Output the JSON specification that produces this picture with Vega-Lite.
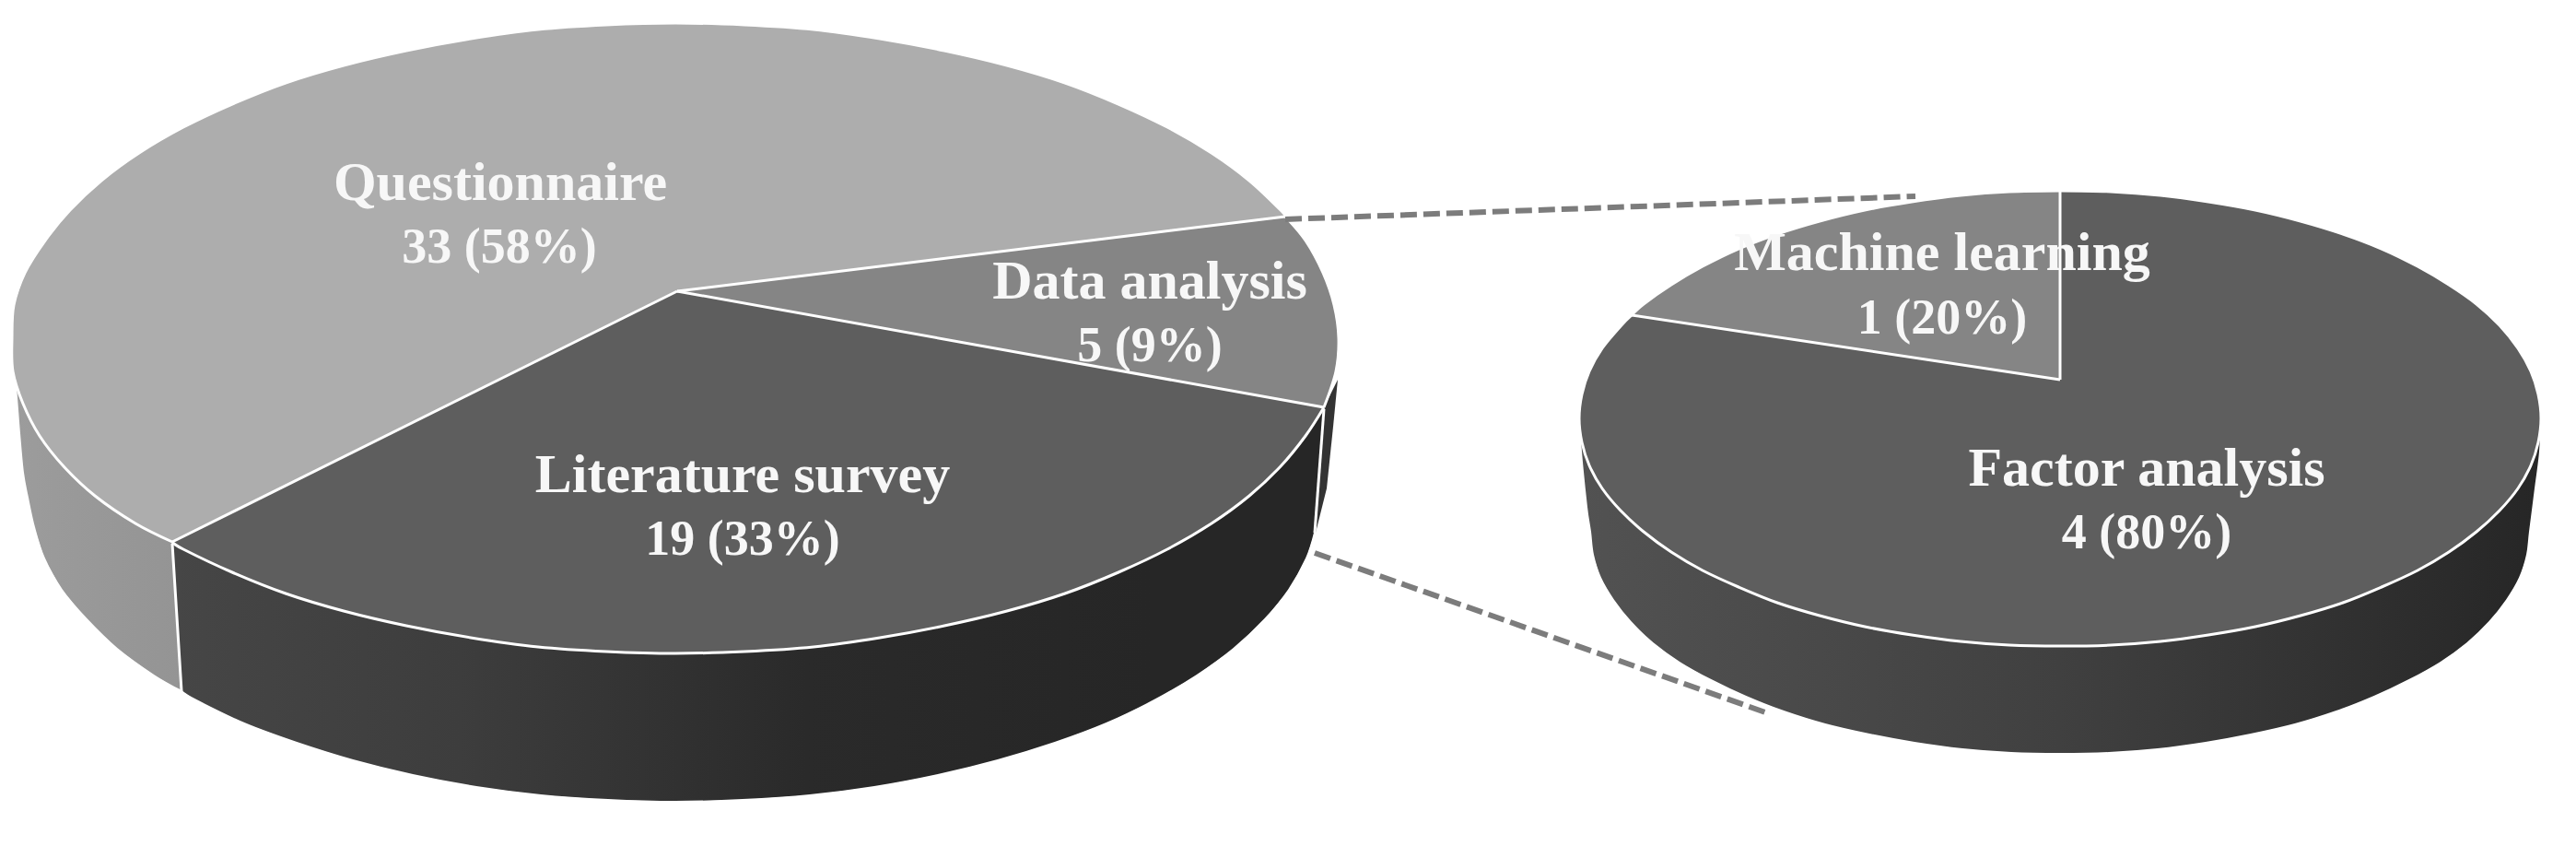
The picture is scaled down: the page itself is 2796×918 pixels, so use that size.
{"$schema":"https://vega.github.io/schema/vega-lite/v6.json","width":2796,"height":918,"padding":0,"autosize":"none","background":"white","config":{"view":{"stroke":null}},
"datasets":{"outline":[
{"part":"Left side","corner":true,"x":187,"y":588},{"part":"Left side","x":14,"y":400},{"part":"Left side","x":17,"y":420},{"part":"Left side","x":21,"y":470},{"part":"Left side","x":25,"y":513},{"part":"Left side","x":30,"y":540},{"part":"Left side","x":37,"y":572},{"part":"Left side","x":48,"y":606},{"part":"Left side","x":67,"y":640},{"part":"Left side","x":94,"y":672},{"part":"Left side","x":127,"y":704},{"part":"Left side","x":167,"y":733},{"part":"Left side","x":197,"y":750},{"part":"Left side","corner":true,"x":187,"y":588},
{"part":"Front side","corner":true,"x":1437,"y":442},{"part":"Front side","x":1427,"y":578},{"part":"Front side","x":1418,"y":606},{"part":"Front side","x":1399,"y":640},{"part":"Front side","x":1373,"y":672},{"part":"Front side","x":1339,"y":704},{"part":"Front side","x":1299,"y":733},{"part":"Front side","x":1253,"y":760},{"part":"Front side","x":1201,"y":785},{"part":"Front side","x":1145,"y":806},{"part":"Front side","x":1083,"y":825},{"part":"Front side","x":1018,"y":841},{"part":"Front side","x":949,"y":854},{"part":"Front side","x":879,"y":863},{"part":"Front side","x":806,"y":868},{"part":"Front side","x":733,"y":870},{"part":"Front side","x":660,"y":868},{"part":"Front side","x":587,"y":863},{"part":"Front side","x":517,"y":854},{"part":"Front side","x":448,"y":841},{"part":"Front side","x":383,"y":825},{"part":"Front side","x":322,"y":806},{"part":"Front side","x":265,"y":785},{"part":"Front side","x":213,"y":760},{"part":"Front side","x":197,"y":750},{"part":"Front side","corner":true,"x":187,"y":588},{"part":"Front side","corner":true,"x":1437,"y":442},
{"part":"Right side","corner":true,"x":1437,"y":442},{"part":"Right side","x":1452,"y":412},{"part":"Right side","x":1447,"y":463},{"part":"Right side","x":1440,"y":530},{"part":"Right side","x":1428,"y":578},{"part":"Right side","corner":true,"x":1437,"y":442},
{"part":"Small side","x":2758,"y":454},{"part":"Small side","x":2757,"y":490},{"part":"Small side","x":2752,"y":530},{"part":"Small side","x":2746,"y":577},{"part":"Small side","x":2743,"y":602},{"part":"Small side","x":2735,"y":627},{"part":"Small side","x":2721,"y":651},{"part":"Small side","x":2702,"y":675},{"part":"Small side","x":2678,"y":698},{"part":"Small side","x":2649,"y":719},{"part":"Small side","x":2615,"y":738},{"part":"Small side","x":2577,"y":756},{"part":"Small side","x":2536,"y":772},{"part":"Small side","x":2491,"y":786},{"part":"Small side","x":2443,"y":797},{"part":"Small side","x":2394,"y":806},{"part":"Small side","x":2342,"y":813},{"part":"Small side","x":2289,"y":817},{"part":"Small side","x":2236,"y":818},{"part":"Small side","x":2183,"y":817},{"part":"Small side","x":2130,"y":813},{"part":"Small side","x":2078,"y":806},{"part":"Small side","x":2029,"y":797},{"part":"Small side","x":1981,"y":786},{"part":"Small side","x":1936,"y":772},{"part":"Small side","x":1895,"y":756},{"part":"Small side","x":1857,"y":738},{"part":"Small side","x":1823,"y":719},{"part":"Small side","x":1794,"y":698},{"part":"Small side","x":1770,"y":675},{"part":"Small side","x":1751,"y":651},{"part":"Small side","x":1737,"y":627},{"part":"Small side","x":1729,"y":602},{"part":"Small side","x":1726,"y":577},{"part":"Small side","x":1722,"y":550},{"part":"Small side","x":1716,"y":490},{"part":"Small side","x":1714,"y":454},{"part":"Small side","corner":true,"x":2758,"y":454},
{"part":"Questionnaire","corner":true,"x":735,"y":316},{"part":"Questionnaire","x":187,"y":588},{"part":"Questionnaire","x":147,"y":568},{"part":"Questionnaire","x":103,"y":538},{"part":"Questionnaire","x":69,"y":506},{"part":"Questionnaire","x":43,"y":473},{"part":"Questionnaire","x":25,"y":438},{"part":"Questionnaire","x":14,"y":403},{"part":"Questionnaire","x":13,"y":367},{"part":"Questionnaire","x":15,"y":331},{"part":"Questionnaire","x":27,"y":296},{"part":"Questionnaire","x":49,"y":261},{"part":"Questionnaire","x":76,"y":228},{"part":"Questionnaire","x":110,"y":196},{"part":"Questionnaire","x":151,"y":166},{"part":"Questionnaire","x":199,"y":138},{"part":"Questionnaire","x":252,"y":113},{"part":"Questionnaire","x":310,"y":90},{"part":"Questionnaire","x":373,"y":71},{"part":"Questionnaire","x":441,"y":55},{"part":"Questionnaire","x":511,"y":42},{"part":"Questionnaire","x":584,"y":32},{"part":"Questionnaire","x":658,"y":27},{"part":"Questionnaire","x":733,"y":25},{"part":"Questionnaire","x":808,"y":27},{"part":"Questionnaire","x":883,"y":32},{"part":"Questionnaire","x":955,"y":42},{"part":"Questionnaire","x":1025,"y":55},{"part":"Questionnaire","x":1093,"y":71},{"part":"Questionnaire","x":1156,"y":90},{"part":"Questionnaire","x":1214,"y":113},{"part":"Questionnaire","x":1267,"y":138},{"part":"Questionnaire","x":1315,"y":166},{"part":"Questionnaire","x":1356,"y":196},{"part":"Questionnaire","x":1390,"y":228},{"part":"Questionnaire","x":1395,"y":235},{"part":"Questionnaire","corner":true,"x":735,"y":316},
{"part":"Data analysis","corner":true,"x":735,"y":316},{"part":"Data analysis","x":1395,"y":235},{"part":"Data analysis","x":1417,"y":261},{"part":"Data analysis","x":1436,"y":296},{"part":"Data analysis","x":1448,"y":331},{"part":"Data analysis","x":1453,"y":367},{"part":"Data analysis","x":1450,"y":403},{"part":"Data analysis","x":1437,"y":442},{"part":"Data analysis","corner":true,"x":735,"y":316},
{"part":"Literature survey","corner":true,"x":735,"y":316},{"part":"Literature survey","x":1437,"y":442},{"part":"Literature survey","x":1417,"y":473},{"part":"Literature survey","x":1390,"y":506},{"part":"Literature survey","x":1356,"y":538},{"part":"Literature survey","x":1315,"y":568},{"part":"Literature survey","x":1267,"y":596},{"part":"Literature survey","x":1214,"y":621},{"part":"Literature survey","x":1156,"y":644},{"part":"Literature survey","x":1093,"y":663},{"part":"Literature survey","x":1025,"y":679},{"part":"Literature survey","x":955,"y":692},{"part":"Literature survey","x":883,"y":702},{"part":"Literature survey","x":808,"y":707},{"part":"Literature survey","x":733,"y":709},{"part":"Literature survey","x":658,"y":707},{"part":"Literature survey","x":584,"y":702},{"part":"Literature survey","x":511,"y":692},{"part":"Literature survey","x":441,"y":679},{"part":"Literature survey","x":373,"y":663},{"part":"Literature survey","x":310,"y":644},{"part":"Literature survey","x":252,"y":621},{"part":"Literature survey","x":199,"y":596},{"part":"Literature survey","x":187,"y":588},{"part":"Literature survey","corner":true,"x":735,"y":316},
{"part":"Factor analysis","corner":true,"x":2236,"y":412},{"part":"Factor analysis","x":2236,"y":207},{"part":"Factor analysis","x":2291,"y":208},{"part":"Factor analysis","x":2345,"y":212},{"part":"Factor analysis","x":2397,"y":219},{"part":"Factor analysis","x":2448,"y":228},{"part":"Factor analysis","x":2497,"y":240},{"part":"Factor analysis","x":2543,"y":254},{"part":"Factor analysis","x":2585,"y":270},{"part":"Factor analysis","x":2624,"y":289},{"part":"Factor analysis","x":2658,"y":309},{"part":"Factor analysis","x":2688,"y":330},{"part":"Factor analysis","x":2713,"y":353},{"part":"Factor analysis","x":2733,"y":378},{"part":"Factor analysis","x":2747,"y":403},{"part":"Factor analysis","x":2755,"y":428},{"part":"Factor analysis","x":2758,"y":454},{"part":"Factor analysis","x":2755,"y":480},{"part":"Factor analysis","x":2747,"y":505},{"part":"Factor analysis","x":2733,"y":530},{"part":"Factor analysis","x":2713,"y":554},{"part":"Factor analysis","x":2688,"y":577},{"part":"Factor analysis","x":2658,"y":599},{"part":"Factor analysis","x":2624,"y":619},{"part":"Factor analysis","x":2585,"y":637},{"part":"Factor analysis","x":2543,"y":654},{"part":"Factor analysis","x":2497,"y":668},{"part":"Factor analysis","x":2448,"y":680},{"part":"Factor analysis","x":2397,"y":689},{"part":"Factor analysis","x":2345,"y":696},{"part":"Factor analysis","x":2291,"y":700},{"part":"Factor analysis","x":2236,"y":701},{"part":"Factor analysis","x":2181,"y":700},{"part":"Factor analysis","x":2128,"y":696},{"part":"Factor analysis","x":2075,"y":689},{"part":"Factor analysis","x":2024,"y":680},{"part":"Factor analysis","x":1975,"y":668},{"part":"Factor analysis","x":1929,"y":654},{"part":"Factor analysis","x":1887,"y":637},{"part":"Factor analysis","x":1848,"y":619},{"part":"Factor analysis","x":1814,"y":599},{"part":"Factor analysis","x":1784,"y":577},{"part":"Factor analysis","x":1759,"y":554},{"part":"Factor analysis","x":1739,"y":530},{"part":"Factor analysis","x":1725,"y":505},{"part":"Factor analysis","x":1717,"y":480},{"part":"Factor analysis","x":1714,"y":454},{"part":"Factor analysis","x":1717,"y":428},{"part":"Factor analysis","x":1725,"y":403},{"part":"Factor analysis","x":1739,"y":378},{"part":"Factor analysis","x":1759,"y":354},{"part":"Factor analysis","x":1771,"y":342},{"part":"Factor analysis","corner":true,"x":2236,"y":412},
{"part":"Machine learning","corner":true,"x":2236,"y":412},{"part":"Machine learning","x":1771,"y":342},{"part":"Machine learning","x":1784,"y":330},{"part":"Machine learning","x":1814,"y":309},{"part":"Machine learning","x":1848,"y":289},{"part":"Machine learning","x":1887,"y":270},{"part":"Machine learning","x":1929,"y":254},{"part":"Machine learning","x":1975,"y":240},{"part":"Machine learning","x":2024,"y":228},{"part":"Machine learning","x":2075,"y":219},{"part":"Machine learning","x":2128,"y":212},{"part":"Machine learning","x":2181,"y":208},{"part":"Machine learning","x":2236,"y":207},{"part":"Machine learning","corner":true,"x":2236,"y":412}
],
"edges":[{"edge":"C","x":187,"y":590},{"edge":"C","x":197,"y":750},{"edge":"B","x":1437,"y":444},{"edge":"B","x":1427,"y":578},
{"edge":"spoke A","x":735,"y":316},{"edge":"spoke A","x":1395,"y":235},{"edge":"spoke B","x":735,"y":316},{"edge":"spoke B","x":1437,"y":442},{"edge":"spoke C","x":735,"y":316},{"edge":"spoke C","x":187,"y":588},
{"edge":"spoke D","x":2236,"y":412},{"edge":"spoke D","x":2236,"y":207},{"edge":"spoke E","x":2236,"y":412},{"edge":"spoke E","x":1771,"y":342}],
"connectors":[{"link":"upper","x":1395,"y":238},{"link":"upper","x":2079,"y":213},{"link":"lower","x":1427,"y":600},{"link":"lower","x":1916,"y":773}],
"labels":[
{"kind":"name","text":"Questionnaire","x":543,"y":217},{"kind":"count","text":"33 (58%)","x":542,"y":285},
{"kind":"name","text":"Literature survey","x":806,"y":534},{"kind":"count","text":"19 (33%)","x":806,"y":602},
{"kind":"name","text":"Data analysis","x":1248,"y":324},{"kind":"count","text":"5 (9%)","x":1248,"y":392},
{"kind":"name","text":"Machine learning","x":2108,"y":293},{"kind":"count","text":"1 (20%)","x":2108,"y":362},
{"kind":"name","text":"Factor analysis","x":2330,"y":527},{"kind":"count","text":"4 (80%)","x":2330,"y":595}]},
"encoding":{"x":{"field":"x","type":"quantitative","scale":{"domain":[0,2796],"nice":false,"zero":false},"axis":null},"y":{"field":"y","type":"quantitative","scale":{"domain":[0,918],"reverse":true,"nice":false,"zero":false},"axis":null}},
"layer":[
{"data":{"name":"outline"},"transform":[{"filter":"datum.part==='Left side'"}],"mark":{"type":"line","fill":{"gradient":"linear","x1":0,"x2":1,"y1":0,"y2":0,"stops":[{"offset":0,"color":"#9c9c9c"},{"offset":1,"color":"#949494"}]},"strokeWidth":0},"encoding":{"order":{"value":null}}},
{"data":{"name":"outline"},"transform":[{"filter":"datum.part==='Front side'"}],"mark":{"type":"line","fill":{"gradient":"linear","x1":0,"x2":1,"y1":0,"y2":0,"stops":[{"offset":0,"color":"#464646"},{"offset":0.25,"color":"#3d3d3d"},{"offset":0.55,"color":"#2a2a2a"},{"offset":0.85,"color":"#262626"},{"offset":1,"color":"#262626"}]},"strokeWidth":0},"encoding":{"order":{"value":null}}},
{"data":{"name":"outline"},"transform":[{"filter":"datum.part==='Right side'"}],"mark":{"type":"line","fill":"#333333","strokeWidth":0},"encoding":{"order":{"value":null}}},
{"data":{"name":"outline"},"transform":[{"filter":"datum.part==='Small side'"}],"mark":{"type":"line","fill":{"gradient":"linear","x1":0,"x2":1,"y1":0,"y2":0,"stops":[{"offset":0,"color":"#525252"},{"offset":0.5,"color":"#404040"},{"offset":1,"color":"#262626"}]},"strokeWidth":0},"encoding":{"order":{"value":null}}},
{"data":{"name":"outline"},"transform":[{"filter":"indexof(['Left side','Front side','Small side'],datum.part)>=0 && !datum.corner"}],"mark":{"type":"line","interpolate":"cardinal","stroke":"white","strokeWidth":2},"encoding":{"detail":{"field":"part"},"order":{"value":null}}},
{"data":{"name":"outline"},"transform":[{"filter":"indexof(['Questionnaire','Data analysis','Literature survey','Factor analysis','Machine learning'],datum.part)>=0"}],"mark":{"type":"line","strokeWidth":0},"encoding":{"detail":{"field":"part"},"order":{"value":null},"fill":{"field":"part","type":"nominal","legend":null,"scale":{"domain":["Questionnaire","Data analysis","Literature survey","Factor analysis","Machine learning"],"range":["#adadad","#858585","#5e5e5e","#5e5e5e","#858585"]}}}},
{"data":{"name":"edges"},"mark":{"type":"line","stroke":"white","strokeWidth":3},"encoding":{"detail":{"field":"edge"},"order":{"value":null}}},
{"data":{"name":"outline"},"transform":[{"filter":"indexof(['Questionnaire','Data analysis','Literature survey','Factor analysis','Machine learning'],datum.part)>=0 && !datum.corner"}],"mark":{"type":"line","interpolate":"cardinal","stroke":"white","strokeWidth":3},"encoding":{"detail":{"field":"part"},"order":{"value":null}}},
{"data":{"name":"connectors"},"mark":{"type":"line","stroke":"#7c7c7c","strokeWidth":6,"strokeDash":[18,7]},"encoding":{"detail":{"field":"link"},"order":{"value":null}}},
{"data":{"name":"labels"},"transform":[{"filter":"datum.kind==='name'"}],"mark":{"type":"text","font":"Liberation Serif","fontWeight":"bold","fontSize":60,"fill":"#f7f7f7","align":"center","baseline":"alphabetic"},"encoding":{"text":{"field":"text"}}},
{"data":{"name":"labels"},"transform":[{"filter":"datum.kind==='count'"}],"mark":{"type":"text","font":"Liberation Serif","fontWeight":"bold","fontSize":54,"fill":"#f7f7f7","align":"center","baseline":"alphabetic"},"encoding":{"text":{"field":"text"}}}
]}
